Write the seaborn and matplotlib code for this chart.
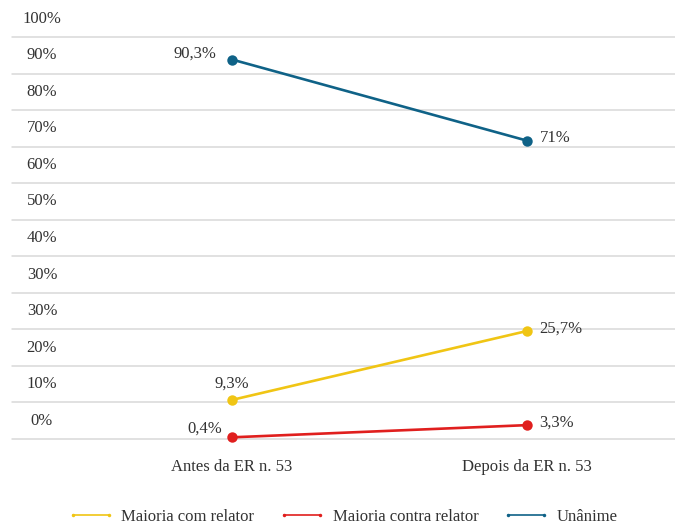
import matplotlib
matplotlib.use("Agg")
import matplotlib.pyplot as plt
from matplotlib.lines import Line2D
import matplotlib.transforms as mtransforms
import numpy as np
import pandas as pd
import seaborn as sns

# Categories, series and values (in %)
categorias = ["Antes da ER n. 53", "Depois da ER n. 53"]
series = ["Maioria com relator", "Maioria contra relator", "Unânime"]
maioria_com_relator = [9.3, 25.7]
maioria_contra_relator = [0.4, 3.3]
unanime = [90.3, 71.0]
rotulos_valores = {
    "Maioria com relator": ["9,3%", "25,7%"],
    "Maioria contra relator": ["0,4%", "3,3%"],
    "Unânime": ["90,3%", "71%"],
}
rotulos_eixo_y = ["0%", "10%", "20%", "30%", "30%", "40%", "50%",
                  "60%", "70%", "80%", "90%", "100%"]

cores = {
    "Maioria com relator": "#f0c514",
    "Maioria contra relator": "#e01f1e",
    "Unânime": "#0f6287",
}

valores = {
    "Maioria com relator": maioria_com_relator,
    "Maioria contra relator": maioria_contra_relator,
    "Unânime": unanime,
}
linhas = []
for s in series:
    for i, c in enumerate(categorias):
        linhas.append({"serie": s, "pos": i, "categoria": c, "valor": valores[s][i]})
df = pd.DataFrame(linhas)

sns.set_theme(style="white")
plt.rcParams["font.family"] = ["Liberation Serif", "DejaVu Serif"]
texto_cor = "#333333"

fig = plt.figure(figsize=(6.75, 5.28), dpi=100)
ax = fig.add_axes([12 / 675, 89 / 528, 663 / 675, 438.5 / 528])

sns.lineplot(data=df, x="pos", y="valor", hue="serie", hue_order=series,
             palette=cores, marker="o", markersize=7.5, markeredgewidth=0,
             linewidth=1.9, ax=ax, legend=False)
for ln in ax.lines:
    ln.set_clip_on(False)
    ln.set_zorder(3)

# Horizontal grid bands with labels centred between grid lines
passo = 100 / 11.5
n_linhas = len(rotulos_eixo_y)
ax.set_ylim(0, n_linhas * passo)
ax.set_yticks([k * passo for k in range(n_linhas)])
ax.set_yticklabels([])
ax.yaxis.grid(True, color="#d9d9d9", linewidth=1.1)
ax.xaxis.grid(False)
ax.set_axisbelow(True)
for gl in ax.get_ygridlines():
    gl.set_clip_on(False)
ax.tick_params(axis="y", length=0)
trans = mtransforms.blended_transform_factory(ax.transAxes, ax.transData)
for k, rot in enumerate(rotulos_eixo_y):
    ax.text(0.0452, (k + 0.5) * passo, rot, transform=trans, ha="center",
            va="center", fontsize=12, color=texto_cor)

ax.set_xlim(-0.746, 1.502)
ax.set_xticks(range(len(categorias)))
ax.set_xticklabels(categorias, fontsize=12, color=texto_cor)
ax.tick_params(axis="x", length=0, pad=14.5)
ax.set_xlabel("")
ax.set_ylabel("")
for sp in ax.spines.values():
    sp.set_visible(False)

# Value labels next to each point (offsets in points)
deslocamentos = {
    ("Unânime", 0): (-11, 4, "right"),
    ("Unânime", 1): (9, 2, "left"),
    ("Maioria com relator", 0): (0, 12, "center"),
    ("Maioria com relator", 1): (9, 2, "left"),
    ("Maioria contra relator", 0): (-7, 6, "right"),
    ("Maioria contra relator", 1): (9, 2, "left"),
}
for s in series:
    for i in range(len(categorias)):
        dx, dy, ha = deslocamentos[(s, i)]
        ax.annotate(rotulos_valores[s][i], (i, valores[s][i]),
                    xytext=(dx, dy), textcoords="offset points",
                    ha=ha, va="center", fontsize=12, color=texto_cor,
                    annotation_clip=False)

handles = [Line2D([0], [0], color=cores[s], linewidth=1.2, marker="o",
                  markersize=2.5, markeredgewidth=0) for s in series]
fig.legend(handles, series, loc="center", bbox_to_anchor=(0.508, 0.021),
           ncol=3, frameon=False, fontsize=12, numpoints=2,
           handlelength=2.75, handletextpad=0.45, columnspacing=1.5,
           labelcolor=texto_cor)

fig.savefig("out.png", dpi=100)
